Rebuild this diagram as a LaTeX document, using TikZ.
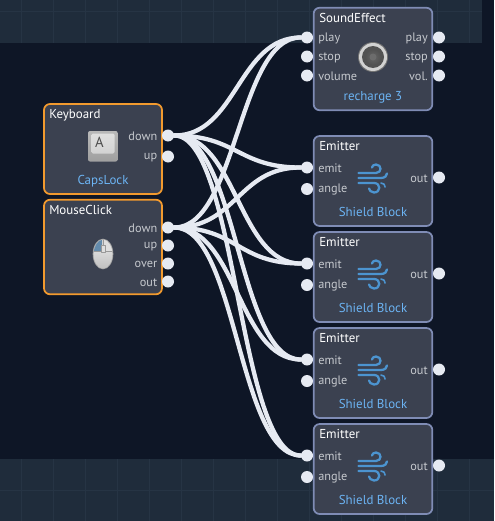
\documentclass[tikz,border=0pt]{standalone}
\usepackage{fontspec}
\setmainfont{PT Sans}
\usetikzlibrary{calc,positioning}
\definecolor{bgdark}{HTML}{0E1626}
\definecolor{bgband}{HTML}{1F2C3B}
\definecolor{gridband}{HTML}{263444}
\definecolor{boxfill}{HTML}{3B4150}
\definecolor{boxorange}{HTML}{F29A2E}
\definecolor{boxblue}{HTML}{7F8CB5}
\definecolor{wirecol}{HTML}{E6EAF2}
\definecolor{portlabel}{HTML}{C6C9CE}
\definecolor{footerblue}{HTML}{6CB4F4}
\definecolor{windblue}{HTML}{4C94D0}

\begin{document}
\begin{tikzpicture}[
  x=0.75pt,y=-0.75pt,
  line cap=round,
  line join=round,
  inputbox/.style={draw=boxorange,fill=boxfill,line width=1.3pt,rounded corners=4.5pt,minimum width=88.5pt,inner sep=0pt},
  actionbox/.style={draw=boxblue,fill=boxfill,line width=1.3pt,rounded corners=4.5pt,minimum width=89pt,inner sep=0pt},
  port/.style={circle,fill=wirecol,minimum size=9pt,inner sep=0pt},
  wire/.style={wirecol,line width=3.2pt},
  title/.style={white,font=\fontsize{9.7}{10}\selectfont,anchor=west,inner sep=0pt,yshift=-0.7pt},
  portleft/.style={portlabel,font=\fontsize{9.2}{10}\selectfont,anchor=west,inner sep=0pt,yshift=-0.7pt},
  portright/.style={portlabel,font=\fontsize{9.2}{10}\selectfont,anchor=east,inner sep=0pt,yshift=-0.7pt},
  footer/.style={footerblue,font=\fontsize{9.7}{10}\selectfont,inner sep=0pt,yshift=-0.7pt},
  windline/.style={windblue,line width=1.7pt}
]
\useasboundingbox (0,0) rectangle (494,521);

\fill[bgdark] (0,0) rectangle (494,521);
\fill[bgband] (0,0) rectangle (482,43);
\fill[bgband] (0,459) rectangle (494,521);
\foreach \gx in {21,53,85,117,149,181,213,245,277,309,341,373,405,437,469}
{
  \draw[gridband,line width=0.5pt,line cap=butt] (\gx,0) -- (\gx,43);
  \draw[gridband,line width=0.5pt,line cap=butt] (\gx,459) -- (\gx,521);
}
\draw[gridband,line width=0.5pt,line cap=butt] (0,11) -- (482,11);
\draw[gridband,line width=0.5pt,line cap=butt] (0,490) -- (494,490);

\node[inputbox,minimum height=67.5pt] (keyboard) at (103,149) {};
\node[inputbox,minimum height=70.9pt] (mouseclick) at (103,247) {};
\node[actionbox,minimum height=76.9pt] (sound) at (373,59) {};
\node[actionbox,minimum height=67.5pt] (emitter0) at (373,181) {};
\node[actionbox,minimum height=67.5pt] (emitter1) at (373,277) {};
\node[actionbox,minimum height=67.5pt] (emitter2) at (373,373) {};
\node[actionbox,minimum height=67.5pt] (emitter3) at (373,469) {};

\node[title] (keyboardtitle) at (49,114) {Keyboard};
\node[title] (mousetitle) at (49,209.5) {MouseClick};
\node[title] (soundtitle) at (319,17.5) {SoundEffect};

\node[port] (keydown) at (168,135.5) {};
\node[port] (keyup) at (168,156.5) {};
\node[portright] (keydownlabel) at (157.5,135.5) {down};
\node[portright] (keyuplabel) at (157.5,156.5) {up};
\node[footer] (keyfooter) at (103,180) {CapsLock};

\node[port] (mousedown) at (168,227.5) {};
\node[port] (mouseup) at (168,245.5) {};
\node[port] (mouseover) at (168,263.5) {};
\node[port] (mouseout) at (168,281.5) {};
\node[portright] (mousedownlabel) at (157.5,227.5) {down};
\node[portright] (mouseuplabel) at (157.5,245.5) {up};
\node[portright] (mouseoverlabel) at (157.5,263.5) {over};
\node[portright] (mouseoutlabel) at (157.5,281.5) {out};

\node[port] (playin) at (307,37.5) {};
\node[port] (stopin) at (307,56.5) {};
\node[port] (volin) at (307,75.5) {};
\node[port] (playout) at (439,37.5) {};
\node[port] (stopout) at (439,56.5) {};
\node[port] (volout) at (439,75.5) {};
\node[portleft] (playlabel) at (318,37.5) {play};
\node[portleft] (stoplabel) at (318,56.5) {stop};
\node[portleft] (vollabel) at (318,75.5) {volume};
\node[portright] (playoutlabel) at (428,37.5) {play};
\node[portright] (stopoutlabel) at (428,56.5) {stop};
\node[portright] (voloutlabel) at (428,75.5) {vol.};
\node[footer] (soundfooter) at (373,96) {recharge 3};

\foreach \i in {0,1,2,3}
{
  \pgfmathsetmacro{\dy}{96*\i}
  \node[title] (emittertitle\i) at (319,145.5+\dy) {Emitter};
  \node[port] (emit\i) at (307,167.5+\dy) {};
  \node[port] (angle\i) at (307,189+\dy) {};
  \node[port] (out\i) at (439,177.5+\dy) {};
  \node[portleft] (emitlabel\i) at (318,167.5+\dy) {emit};
  \node[portleft] (anglelabel\i) at (318,189+\dy) {angle};
  \node[portright] (outlabel\i) at (428,177.5+\dy) {out};
  \node[footer] (emitterfooter\i) at (373,211.5+\dy) {Shield Block};
  \draw[windline] (358.5,173+\dy) -- (376,173+\dy)
    .. controls (382,173+\dy) and (382,164.5+\dy) .. (376,164.5+\dy)
    .. controls (373.5,164.5+\dy) and (372,166+\dy) .. (372,167.5+\dy);
  \draw[windline] (358.5,178+\dy) -- (381,178+\dy)
    .. controls (385,178+\dy) and (387,175.5+\dy) .. (387,173.5+\dy);
  \draw[windline] (358.5,183+\dy) -- (374,183+\dy)
    .. controls (381,183+\dy) and (381,192.5+\dy) .. (374,192.5+\dy)
    .. controls (371,192.5+\dy) and (369,190+\dy) .. (369,188.5+\dy);
  \draw[windline,line width=1.2pt] (381,183+\dy)
    .. controls (384,183+\dy) and (385,185+\dy) .. (385,187+\dy);
}

\foreach \from in {keydown,mousedown}
  \foreach \to in {playin,emit0,emit1,emit2,emit3}
    \draw[wire] (\from) .. controls +(69,0) and +(-69,0) .. (\to);

\shade[top color=gray!55,bottom color=gray!75,rounded corners=1.5pt] (88,131) rectangle (117.7,161.5);
\shade[top color=gray!25,bottom color=gray!35,rounded corners=1pt] (91.5,133.5) rectangle (114.5,153.5);
\node[font=\fontsize{11}{12}\selectfont,text=black!70,inner sep=0pt] (keyletter) at (99.5,142.5) {A};

\fill[gray!70] (103,254) ellipse (10.3 and 15.3);
\fill[gray!35] (103,254) ellipse (9.3 and 14.3);
\begin{scope}
  \clip (103,254) ellipse (9.3 and 14.3);
  \fill[windblue!55!gray] (93,239) rectangle (102,251.5);
  \fill[gray!25] (104,239) rectangle (113,251.5);
  \shade[top color=gray!30,bottom color=gray!50] (93,252) rectangle (113,269);
  \draw[gray!80,line width=0.5pt] (93,251.7) -- (113,251.7);
  \draw[gray!80,line width=0.5pt] (103,239) -- (103,245);
\end{scope}
\fill[gray!25,draw=gray!80,line width=0.4pt] (101.5,245) rectangle (105.5,252);

\fill[black!55] (373,57) circle (15);
\fill[gray!35] (373,57) circle (14);
\fill[black!68] (373,57) circle (11);
\shade[inner color=gray!80!black,outer color=black!68] (373,57) circle (8);
\fill[gray!85!black] (373,57) circle (3.5);
\end{tikzpicture}
\end{document}
